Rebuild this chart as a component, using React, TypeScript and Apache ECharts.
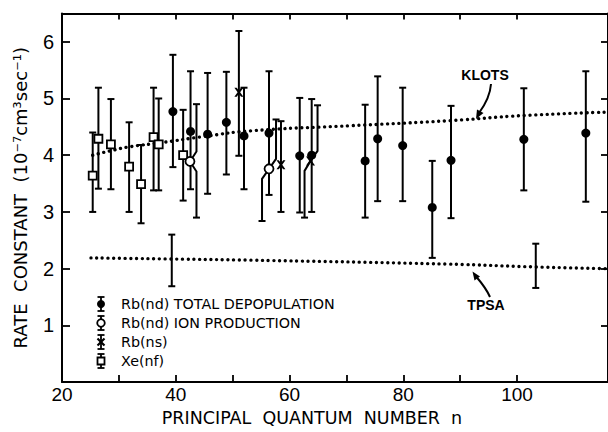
import React, { useEffect, useRef } from "react";
import * as echarts from "echarts";

// Xe(nf) — open squares
const xeN = [25.4, 26.4, 28.6, 31.8, 33.9, 36.1, 37.0, 41.3];
const xeV = [3.64, 4.29, 4.19, 3.8, 3.49, 4.32, 4.19, 4.0];
const xeLo = [3.0, 3.41, 3.4, 3.0, 2.8, 3.38, 3.38, 3.2];
const xeHi = [4.4, 5.19, 4.99, 4.58, 4.18, 5.19, 5.0, 4.8];

// Rb(nd) ion production — open circles
const ionN = [42.5, 56.4];
const ionV = [3.89, 3.76];
const ionLo = [2.9, 2.84];
const ionHi = [4.9, 4.63];

// Rb(ns) — crosses
const nsN = [51.1, 58.5, 63.7];
const nsV = [5.11, 3.83, 3.9];
const nsLo = [3.99, 3.0, 2.9];
const nsHi = [6.19, 4.6, 4.88];

// Rb(nd) total depopulation — filled circles
const totN = [39.5, 42.6, 45.6, 48.9, 52.0, 56.4, 61.8, 63.9, 73.3, 75.5, 79.9, 85.1, 88.4, 101.2, 112.1];
const totV = [4.77, 4.42, 4.37, 4.58, 4.34, 4.39, 3.99, 4.0, 3.9, 4.29, 4.17, 3.08, 3.91, 4.28, 4.39];
const totLo = [3.79, 3.4, 3.32, 3.66, 3.4, 3.3, 2.99, 3.0, 2.9, 3.19, 3.19, 2.19, 2.89, 3.38, 3.18];
const totHi = [5.77, 5.48, 5.45, 5.47, 5.19, 5.48, 5.01, 4.99, 4.89, 5.39, 5.19, 3.9, 4.87, 5.18, 5.48];

// TPSA error bars (no marker)
const tpsaBarN = [39.3, 103.3];
const tpsaBarLo = [1.69, 1.66];
const tpsaBarHi = [2.6, 2.44];

// Theory curves
const klotsN = [25.4, 28.6, 32, 37.4, 45, 53.2, 70.7, 88.2, 101.2, 116];
const klotsV = [4.0, 4.08, 4.15, 4.22, 4.33, 4.43, 4.52, 4.61, 4.7, 4.76];
const tpsaN = [25.1, 39.3, 53, 88, 103.3, 116];
const tpsaV = [2.19, 2.17, 2.15, 2.08, 2.03, 2.0];

// Axis ticks / labels
const xTickValues = [30, 40, 50, 60, 70, 80, 90, 100];
const xLabelValues = [20, 40, 60, 80, 100];
const yValues = [1, 2, 3, 4, 5, 6];

const legendLabels = ["Rb(nd) TOTAL DEPOPULATION", "Rb(nd) ION PRODUCTION", "Rb(ns)", "Xe(nf)"];

const FONT = "'Liberation Sans', Arial, Helvetica, sans-serif";
const WFONT = "'DejaVu Sans', 'Liberation Sans', sans-serif";

// styling: pixel offsets of kinked error bars [top, bottom]
const ionKinks = [[6.5, 6.5], [7, -7]];
const nsKinks = [[0, 0], [0, 0], [7, -6]];

function barRender(kinks?: number[][]) {
  return (params: any, api: any) => {
    const n = api.value(0);
    const lo = api.value(1);
    const hi = api.value(2);
    const v = api.value(3);
    const pLo = api.coord([n, lo]);
    const pHi = api.coord([n, hi]);
    const x = pLo[0];
    const style = { stroke: "#000", lineWidth: 2, fill: null };
    const k = kinks ? kinks[params.dataIndex] : [0, 0];
    const children: any[] = [];
    const cap = 3.5;
    if (kinks && !(k[0] === 0 && k[1] === 0) && v != null && !isNaN(v)) {
      const y = api.coord([n, v])[1];
      const xt = x + k[0];
      const xb = x + k[1];
      children.push({ type: "polyline", shape: { points: [[x, y], [xt, y - 10], [xt, pHi[1]]] }, style });
      children.push({ type: "polyline", shape: { points: [[x, y], [xb, y + 10], [xb, pLo[1]]] }, style });
      children.push({ type: "line", shape: { x1: xt - cap, y1: pHi[1], x2: xt + cap, y2: pHi[1] }, style });
      children.push({ type: "line", shape: { x1: xb - cap, y1: pLo[1], x2: xb + cap, y2: pLo[1] }, style });
    } else {
      children.push({ type: "line", shape: { x1: x, y1: pHi[1], x2: x, y2: pLo[1] }, style });
      children.push({ type: "line", shape: { x1: x - cap, y1: pHi[1], x2: x + cap, y2: pHi[1] }, style });
      children.push({ type: "line", shape: { x1: x - cap, y1: pLo[1], x2: x + cap, y2: pLo[1] }, style });
    }
    return { type: "group", children };
  };
}

const X_PATH = "path://M0,0L2.6,0L5,3.2L7.4,0L10,0L6.4,5L10,10L7.4,10L5,6.8L2.6,10L0,10L3.6,5Z";

function legendGraphics() {
  const rows = [304, 323, 342, 361];
  const cx = 101;
  const els: any[] = [];
  const st = { stroke: "#000", lineWidth: 1.8, fill: null };
  rows.forEach((y, i) => {
    els.push({ type: "line", shape: { x1: cx, y1: y - 7, x2: cx, y2: y + 7 }, style: st });
    els.push({ type: "line", shape: { x1: cx - 3.5, y1: y - 7, x2: cx + 3.5, y2: y - 7 }, style: st });
    els.push({ type: "line", shape: { x1: cx - 3.5, y1: y + 7, x2: cx + 3.5, y2: y + 7 }, style: st });
    if (i === 0) els.push({ type: "circle", shape: { cx, cy: y, r: 4 }, style: { fill: "#000" } });
    if (i === 1) els.push({ type: "circle", shape: { cx, cy: y, r: 3.8 }, style: { fill: "#fff", stroke: "#000", lineWidth: 1.8 } });
    if (i === 2) {
      els.push({ type: "line", shape: { x1: cx - 3.5, y1: y - 3.5, x2: cx + 3.5, y2: y + 3.5 }, style: { stroke: "#000", lineWidth: 2.2 } });
      els.push({ type: "line", shape: { x1: cx - 3.5, y1: y + 3.5, x2: cx + 3.5, y2: y - 3.5 }, style: { stroke: "#000", lineWidth: 2.2 } });
    }
    if (i === 3) els.push({ type: "rect", shape: { x: cx - 3.5, y: y - 3.5, width: 7, height: 7 }, style: { fill: "#fff", stroke: "#000", lineWidth: 1.8 } });
    els.push({
      type: "text",
      x: 121,
      y,
      style: { text: legendLabels[i], fill: "#000", font: `14.3px ${WFONT}`, textVerticalAlign: "middle", textAlign: "left" } as any,
    });
  });
  return els;
}

function annotationGraphics() {
  return [
    {
      type: "text",
      x: 485,
      y: 75,
      style: { text: "KLOTS", fill: "#000", font: `bold 14px ${FONT}`, textAlign: "center", textVerticalAlign: "middle" } as any,
    },
    {
      type: "bezierCurve",
      shape: { x1: 491, y1: 84, cpx1: 490, cpy1: 98, x2: 479, y2: 113 },
      style: { stroke: "#000", lineWidth: 2, fill: null },
    },
    {
      type: "polygon",
      shape: { points: [[476, 119], [483.5, 113], [477, 109.5]] },
      style: { fill: "#000" },
    },
    {
      type: "text",
      x: 486,
      y: 305,
      style: { text: "TPSA", fill: "#000", font: `bold 14px ${FONT}`, textAlign: "center", textVerticalAlign: "middle" } as any,
    },
    {
      type: "bezierCurve",
      shape: { x1: 490, y1: 297, cpx1: 486, cpy1: 288, x2: 476.5, y2: 277 },
      style: { stroke: "#000", lineWidth: 2, fill: null },
    },
    {
      type: "polygon",
      shape: { points: [[472.5, 271.5], [480, 276.5], [474.5, 280.5]] },
      style: { fill: "#000" },
    },
  ];
}

export default function App() {
  const ref = useRef<HTMLDivElement>(null);
  useEffect(() => {
    if (!ref.current) return;
    const chart = echarts.init(ref.current, null, { renderer: "svg" });
    const axisLineStyle = { color: "#000", width: 2 };
    const tickStyle = { color: "#000", width: 1.8 };
    const option: any = {
      animation: false,
      backgroundColor: "#fff",
      grid: { left: 62, right: 0, top: 13.4, bottom: 47 },
      xAxis: [
        {
          type: "value",
          min: 20,
          max: 116,
          interval: 10,
          position: "bottom",
          axisLine: { show: true, onZero: false, lineStyle: axisLineStyle },
          axisTick: { show: true, inside: true, length: 7, lineStyle: tickStyle, customValues: xTickValues },
          axisLabel: { show: true, customValues: xLabelValues, fontSize: 19, color: "#000", margin: 3, fontFamily: FONT },
          splitLine: { show: false },
          name: "PRINCIPAL  QUANTUM  NUMBER  n",
          nameLocation: "middle",
          nameGap: 26,
          nameTextStyle: { fontSize: 17.5, color: "#000", fontFamily: WFONT, padding: [0, 46, 0, 0] },
        },
        {
          type: "value",
          min: 20,
          max: 116,
          interval: 10,
          position: "top",
          axisLine: { show: true, onZero: false, lineStyle: axisLineStyle },
          axisTick: { show: true, inside: true, length: 6, lineStyle: tickStyle, customValues: xTickValues },
          axisLabel: { show: false },
          splitLine: { show: false },
        },
      ],
      yAxis: [
        {
          type: "value",
          min: 0,
          max: 6.5,
          interval: 1,
          position: "left",
          axisLine: { show: true, onZero: false, lineStyle: axisLineStyle },
          axisTick: { show: true, inside: true, length: 8, lineStyle: tickStyle, customValues: yValues },
          axisLabel: { show: true, customValues: yValues, fontSize: 20, color: "#000", margin: 8, fontFamily: FONT },
          splitLine: { show: false },
          name: "RATE  CONSTANT  (10⁻⁷cm³sec⁻¹)",
          nameLocation: "middle",
          nameRotate: 90,
          nameGap: 33,
          nameTextStyle: { fontSize: 18, color: "#000", fontFamily: WFONT, padding: [0, 0, 0, 0] },
        },
        {
          type: "value",
          min: 0,
          max: 6.5,
          interval: 1,
          position: "right",
          axisLine: { show: true, onZero: false, lineStyle: axisLineStyle },
          axisTick: { show: true, inside: true, length: 7, lineStyle: tickStyle, customValues: yValues },
          axisLabel: { show: false },
          splitLine: { show: false },
        },
      ],
      series: [
        {
          type: "line",
          data: klotsN.map((n, i) => [n, klotsV[i]]),
          smooth: true,
          symbol: "none",
          lineStyle: { color: "#000", width: 3.4, type: [0.01, 5.7], cap: "round" },
          z: 1,
        },
        {
          type: "line",
          data: tpsaN.map((n, i) => [n, tpsaV[i]]),
          smooth: true,
          symbol: "none",
          lineStyle: { color: "#000", width: 3.4, type: [0.01, 5.7], cap: "round" },
          z: 1,
        },
        {
          type: "custom",
          renderItem: barRender(),
          data: tpsaBarN.map((n, i) => [n, tpsaBarLo[i], tpsaBarHi[i]]),
          encode: { x: 0, y: [1, 2] },
          z: 2,
        },
        {
          type: "custom",
          renderItem: barRender(),
          data: totN.map((n, i) => [n, totLo[i], totHi[i], totV[i]]),
          encode: { x: 0, y: [1, 2] },
          z: 2,
        },
        {
          type: "custom",
          renderItem: barRender(),
          data: xeN.map((n, i) => [n, xeLo[i], xeHi[i], xeV[i]]),
          encode: { x: 0, y: [1, 2] },
          z: 2,
        },
        {
          type: "custom",
          renderItem: barRender(ionKinks),
          data: ionN.map((n, i) => [n, ionLo[i], ionHi[i], ionV[i]]),
          encode: { x: 0, y: [1, 2] },
          z: 2,
        },
        {
          type: "custom",
          renderItem: barRender(nsKinks),
          data: nsN.map((n, i) => [n, nsLo[i], nsHi[i], nsV[i]]),
          encode: { x: 0, y: [1, 2] },
          z: 2,
        },
        {
          type: "scatter",
          data: totN.map((n, i) => [n, totV[i]]),
          symbol: "circle",
          symbolSize: 9,
          itemStyle: { color: "#000", opacity: 1 },
          z: 3,
        },
        {
          type: "scatter",
          data: xeN.map((n, i) => [n, xeV[i]]),
          symbol: "rect",
          symbolSize: 8,
          itemStyle: { color: "#fff", borderColor: "#000", borderWidth: 1.8, opacity: 1 },
          z: 3,
        },
        {
          type: "scatter",
          data: ionN.map((n, i) => [n, ionV[i]]),
          symbol: "circle",
          symbolSize: 9,
          itemStyle: { color: "#fff", borderColor: "#000", borderWidth: 1.8, opacity: 1 },
          z: 3,
        },
        {
          type: "scatter",
          data: nsN.map((n, i) => [n, nsV[i]]),
          symbol: X_PATH,
          symbolSize: 9,
          itemStyle: { color: "#000", opacity: 1 },
          z: 3,
        },
      ],
      graphic: [...legendGraphics(), ...annotationGraphics()],
    };
    chart.setOption(option);
    return () => chart.dispose();
  }, []);
  return (
    <div
      ref={ref}
      style={{ position: "fixed", left: 0, top: 0, width: 608, height: 432, background: "#fff" }}
    />
  );
}
